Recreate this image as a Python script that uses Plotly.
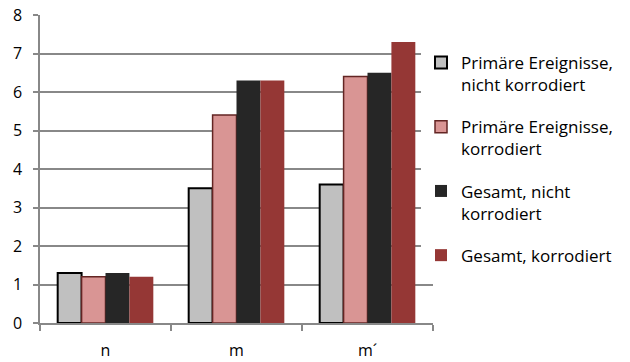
import plotly.graph_objects as go

categories = ["n", "m", "m´"]
series_names = [
    "Primäre Ereignisse,<br>nicht korrodiert",
    "Primäre Ereignisse,<br>korrodiert",
    "Gesamt, nicht<br>korrodiert",
    "Gesamt, korrodiert",
]
primaer_nicht = [1.3, 3.5, 3.6]
primaer_korr = [1.2, 5.4, 6.4]
gesamt_nicht = [1.3, 6.3, 6.5]
gesamt_korr = [1.2, 6.3, 7.3]
y_ticks = [0, 1, 2, 3, 4, 5, 6, 7, 8]

values = [primaer_nicht, primaer_korr, gesamt_nicht, gesamt_korr]
fills = ["#C0C0C0", "#D99594", "#262626", "#953735"]
lines = ["#000000", "#632523", "#262626", "#953735"]
lwidths = [2, 1.5, 0, 0]

fig = go.Figure()
for i, (name, vals) in enumerate(zip(series_names, values)):
    fig.add_trace(go.Bar(
        x=categories, y=vals, name=name, legendgroup=f"g{i}",
        marker=dict(color=fills[i], line=dict(color=lines[i], width=lwidths[i])),
    ))

font = "Open Sans, Liberation Sans, sans-serif"
fig.update_layout(
    width=630, height=362,
    margin=dict(l=40, r=197, t=15, b=39),
    paper_bgcolor="white", plot_bgcolor="white",
    barmode="group", bargap=0.27, bargroupgap=0,
    font=dict(family=font, size=16, color="#000000"),
    legend=dict(x=(421 - 40) / 393, y=1 - (45 - 15) / 308,
                xanchor="left", yanchor="top",
                tracegroupgap=17, valign="top",
                font=dict(size=17, color="#000000"),
                traceorder="grouped"),
    xaxis=dict(showline=True, linecolor="#888888", linewidth=1.5,
               ticks="outside", tickson="boundaries", ticklen=6,
               tickcolor="#888888", tickwidth=1.5, ticklabelstandoff=12,
               automargin=False,
               tickfont=dict(size=16, color="#000000")),
    yaxis=dict(range=[0, 8], tickvals=y_ticks, showline=True,
               linecolor="#888888", linewidth=1.5, ticks="outside",
               ticklen=5, tickcolor="#888888", tickwidth=1.5,
               ticklabelstandoff=8, automargin=False,
               showgrid=True, gridcolor="#888888", gridwidth=1.5,
               zeroline=False, tickfont=dict(size=16, color="#000000")),
)
fig.write_html("out.html", config={"displayModeBar": False},
               post_script="document.body.style.margin='0';document.body.style.padding='0';")
